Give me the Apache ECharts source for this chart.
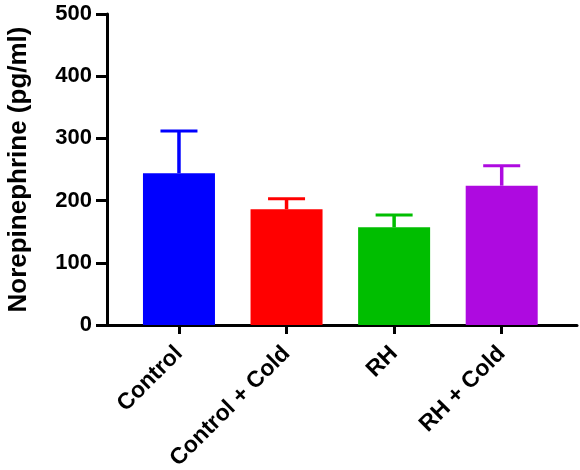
<!DOCTYPE html>
<html>
<head>
<meta charset="utf-8">
<script src="https://cdn.jsdelivr.net/npm/echarts@6/dist/echarts.min.js"></script>
<style>
html,body{margin:0;padding:0;background:#fff;}
#chart{width:580px;height:470px;}
</style>
</head>
<body>
<div id="chart"></div>
<script>
var categories = ['Control', 'Control + Cold', 'RH', 'RH + Cold'];
var means = [244, 186, 157, 224];
var errors = [68, 17, 20, 32];
var yTicks = [0, 100, 200, 300, 400, 500];
var barColors = ['#0000FF', '#FF0000', '#00BE00', '#AE0AE0'];

var positions = categories.map(function (c, i) { return i + 1; });
var barData = means.map(function (m, i) {
  return { value: [positions[i], m], itemStyle: { color: barColors[i] } };
});
var errData = means.map(function (m, i) { return [positions[i], m, m + errors[i]]; });

var chart = echarts.init(document.getElementById('chart'), null, { renderer: 'canvas' });
var font = 'Liberation Sans, Arial, sans-serif';
chart.setOption({
  animation: false,
  backgroundColor: '#ffffff',
  grid: { left: 107, right: 3, top: 14, bottom: 145, containLabel: false, outerBoundsMode: 'none' },
  xAxis: {
    type: 'value',
    min: 0.331,
    max: 4.70,
    splitLine: { show: false },
    axisLine: { show: true, onZero: false, lineStyle: { color: '#000', width: 3 } },
    axisTick: { show: true, customValues: positions, length: 9, lineStyle: { color: '#000', width: 3 } },
    axisLabel: {
      customValues: positions,
      rotate: 45,
      margin: 25,
      color: '#000',
      fontFamily: font,
      fontWeight: 'bold',
      fontSize: 23,
      formatter: function (v) { return categories[Math.round(v) - 1]; }
    }
  },
  yAxis: {
    type: 'value',
    min: yTicks[0],
    max: yTicks[yTicks.length - 1],
    interval: 100,
    name: 'Norepinephrine (pg/ml)',
    nameLocation: 'middle',
    nameGap: 75,
    nameTextStyle: { color: '#000', fontFamily: font, fontWeight: 'bold', fontSize: 26 },
    splitLine: { show: false },
    axisLine: { show: true, lineStyle: { color: '#000', width: 3 } },
    axisTick: { show: true, length: 11, lineStyle: { color: '#000', width: 3 } },
    axisLabel: { margin: 15, color: '#000', fontFamily: font, fontWeight: 'bold', fontSize: 22 }
  },
  series: [
    {
      type: 'bar',
      data: barData,
      barWidth: 72,
      z: 2
    },
    {
      type: 'custom',
      data: errData,
      z: 3,
      renderItem: function (params, api) {
        var x = api.value(0);
        var lo = api.coord([x, api.value(1)]);
        var hi = api.coord([x, api.value(2)]);
        var c = barColors[params.dataIndex];
        var hw = 18.5;
        return {
          type: 'group',
          children: [
            { type: 'line', shape: { x1: lo[0], y1: lo[1], x2: hi[0], y2: hi[1] }, style: { stroke: c, lineWidth: 3.5 } },
            { type: 'line', shape: { x1: hi[0] - hw, y1: hi[1], x2: hi[0] + hw, y2: hi[1] }, style: { stroke: c, lineWidth: 3 } }
          ]
        };
      }
    }
  ]
});
</script>
</body>
</html>
